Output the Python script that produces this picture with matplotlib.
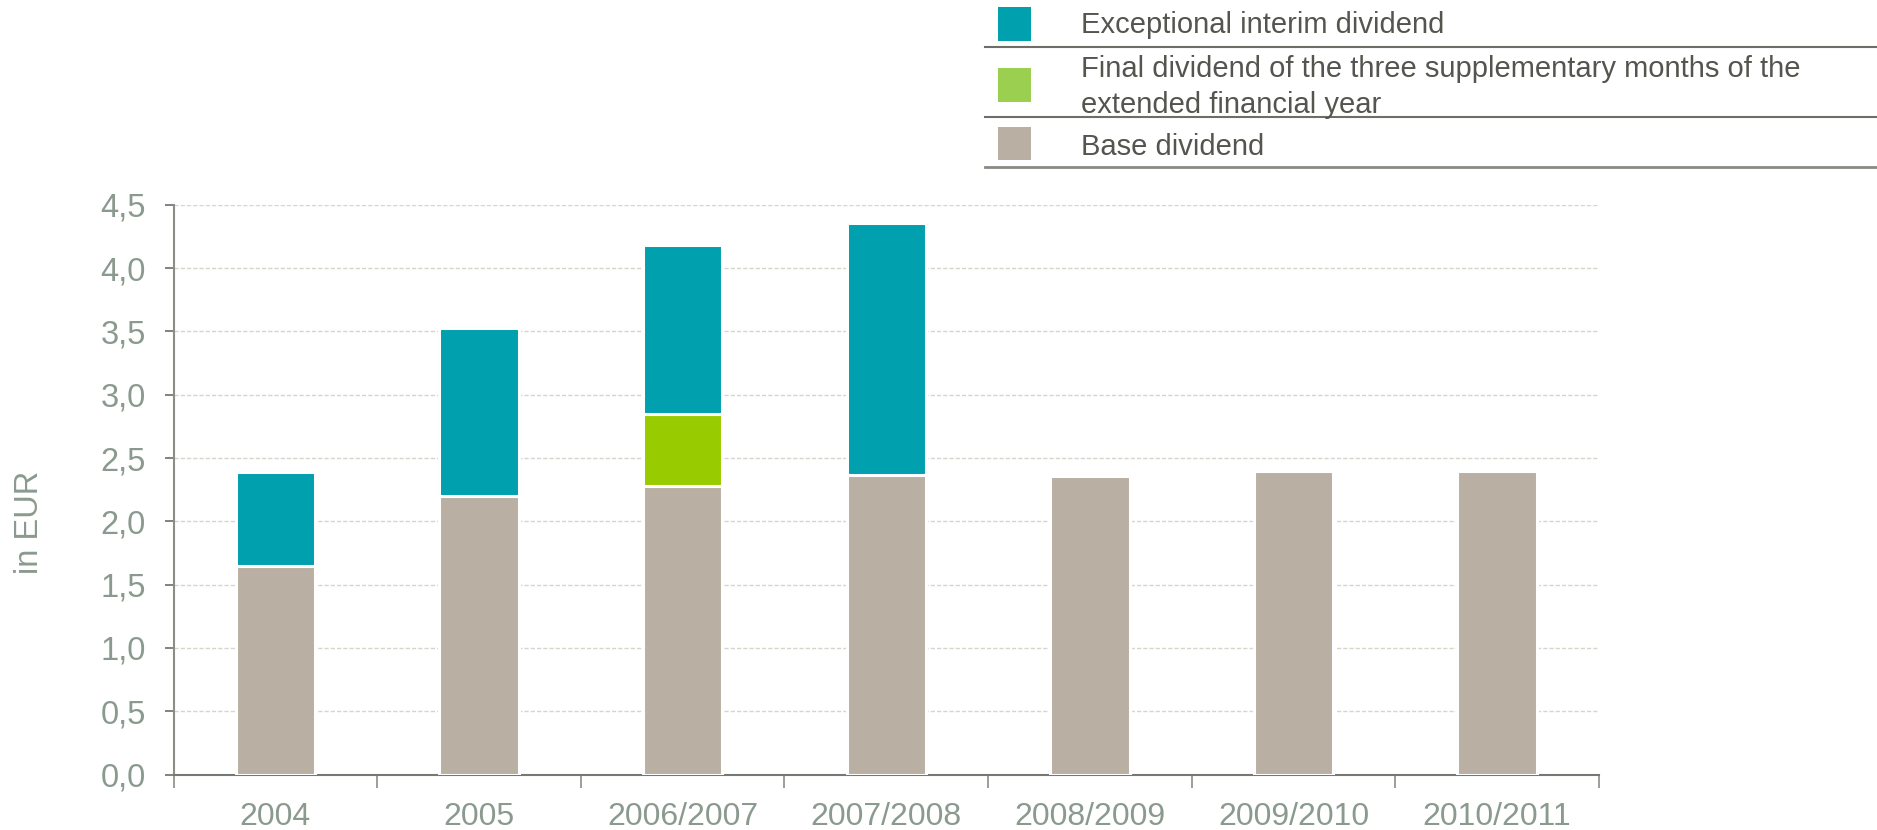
import matplotlib
matplotlib.use("Agg")
import matplotlib.pyplot as plt
from matplotlib.patches import Rectangle
from matplotlib.lines import Line2D
from matplotlib.ticker import FuncFormatter, MultipleLocator, FixedLocator
import numpy as np

plt.rcParams['font.family'] = ['Liberation Sans', 'DejaVu Sans']

categories = ["2004", "2005", "2006/2007", "2007/2008", "2008/2009", "2009/2010", "2010/2011"]
base_dividend = [1.65, 2.20, 2.28, 2.37, 2.36, 2.40, 2.40]
final_dividend = [0.0, 0.0, 0.57, 0.0, 0.0, 0.0, 0.0]
exceptional_dividend = [0.74, 1.33, 1.33, 1.99, 0.0, 0.0, 0.0]

legend_labels = ["Exceptional interim dividend",
                 "Final dividend of the three supplementary months of the\nextended financial year",
                 "Base dividend"]

C_TEAL = '#00A0AE'
C_GREEN = '#99CC00'
C_GREEN_LEG = '#9BCF4F'
C_BASE = '#BAAFA3'
C_TICK = '#8A9A8E'
C_LEGTXT = '#55554F'
C_AXIS = '#8C8C88'

W, H = 1877, 830
fig = plt.figure(figsize=(W / 100, H / 100), dpi=100)

def fx(x):
    return x / W

def fy(y):
    return 1 - y / H

left, right, top, bottom = 173.6, 1599.0, 204.8, 774.6
ax = fig.add_axes([fx(left), fy(bottom), fx(right) - fx(left), (bottom - top) / H])

x = np.arange(len(categories))
base = np.array(base_dividend)
fin = np.array(final_dividend)
exc = np.array(exceptional_dividend)

bw = 0.39
ew = 2.2
ax.bar(x, base, width=bw, color=C_BASE, edgecolor='white', linewidth=ew, zorder=3)
mask_f = fin > 0
ax.bar(x[mask_f], fin[mask_f], bottom=base[mask_f], width=bw, color=C_GREEN,
       edgecolor='white', linewidth=ew, zorder=3)
mask_e = exc > 0
ax.bar(x[mask_e], exc[mask_e], bottom=(base + fin)[mask_e], width=bw, color=C_TEAL,
       edgecolor='white', linewidth=ew, zorder=3)

ax.set_xlim(-0.5, len(categories) - 0.5)
ax.set_ylim(0, 4.5)

ax.yaxis.set_major_locator(MultipleLocator(0.5))
ax.yaxis.set_major_formatter(FuncFormatter(lambda v, p: f"{v:.1f}".replace('.', ',')))
ax.tick_params(axis='y', direction='out', length=6.5, width=1.2, color='#6E6E68',
               labelsize=23.5, labelcolor=C_TICK, pad=13.5)

ax.xaxis.set_major_locator(FixedLocator(np.arange(-0.5, len(categories), 1.0)))
ax.xaxis.set_major_formatter(FuncFormatter(lambda v, p: ""))
ax.xaxis.set_minor_locator(FixedLocator(x))
ax.set_xticklabels(categories, minor=True)
ax.tick_params(axis='x', which='major', direction='out', length=9, width=1.2, color='#8C8C88')
ax.tick_params(axis='x', which='minor', length=0, labelsize=23, labelcolor=C_TICK, pad=19.5)

ax.set_axisbelow(True)
ax.yaxis.grid(True, color='#D8D3CB', linewidth=1.0, linestyle=(0, (3, 1.5)), zorder=0)
for s in ['top', 'right']:
    ax.spines[s].set_visible(False)
ax.spines['left'].set_color(C_AXIS)
ax.spines['left'].set_linewidth(1.5)
ax.spines['bottom'].set_color('#777773')
ax.spines['bottom'].set_linewidth(1.5)

fig.text(fx(30), fy(522), "in EUR", rotation=90, ha='center', va='center',
         fontsize=23.5, color=C_TICK)

# Legend (drawn manually to match the reference table-like layout)
leg_colors = [C_TEAL, C_GREEN_LEG, C_BASE]
sq_rows = [(7, 41), (68, 102), (127, 160)]
txt_y = [25, 87, 147]
sep_y = [47, 117, 167]
for c, (y0, y1) in zip(leg_colors, sq_rows):
    fig.patches.append(Rectangle((fx(998), fy(y1)), fx(1031) - fx(998), (y1 - y0) / H,
                                 transform=fig.transFigure, facecolor=c, edgecolor='none'))
for lab, ty in zip(legend_labels, txt_y):
    fig.text(fx(1081), fy(ty), lab, ha='left', va='center', fontsize=21,
             color=C_LEGTXT, linespacing=1.38)
for i, sy in enumerate(sep_y):
    fig.lines.append(Line2D([fx(985), 1.0], [fy(sy), fy(sy)], transform=fig.transFigure,
                            color='#6E6E68' if i < 2 else '#8A8A84', linewidth=1.5 if i < 2 else 2.0))

fig.savefig("out.png", dpi=100)
